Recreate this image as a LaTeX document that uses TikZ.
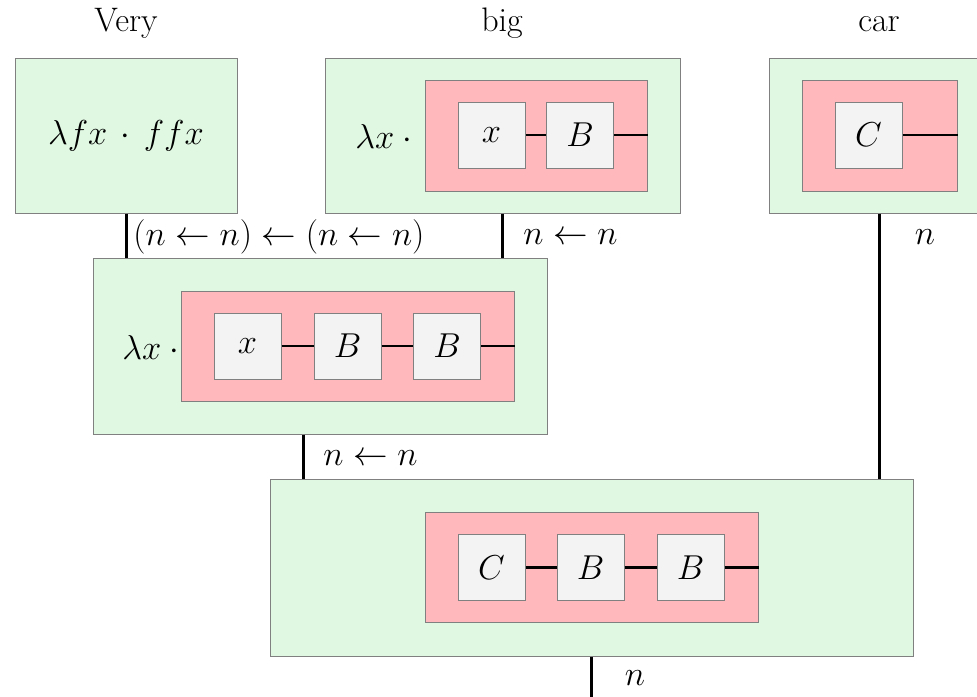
\documentclass[tikz,border=0pt]{standalone}
\usepackage{amsmath}
\begin{document}
\definecolor{gfill}{RGB}{224,248,226}
\definecolor{pfill}{RGB}{255,184,188}
\definecolor{bfill}{RGB}{243,243,243}
\definecolor{edge}{RGB}{128,128,128}
\begin{tikzpicture}[x=0.5pt,y=-0.5pt,
  outerbox/.style={draw=edge,fill=gfill,line width=0.5pt,inner sep=0pt},
  pinkbox/.style={draw=edge,fill=pfill,line width=0.5pt,inner sep=0pt,minimum height=55.5pt},
  graybox/.style={draw=edge,fill=bfill,line width=0.5pt,inner sep=0pt,minimum width=33.5pt,minimum height=33pt,font=\fontsize{18}{22}\selectfont},
  mathtxt/.style={inner sep=0pt,font=\fontsize{18}{22}\selectfont},
  title/.style={inner sep=0pt,anchor=base,font=\fontsize{17}{20}\selectfont},
  wire/.style={line width=1.5pt,black},
  iwire/.style={line width=1.4pt,black}]
\useasboundingbox (0,0) rectangle (977,696);
\clip (0,0) rectangle (977,696);

% titles
\node[title] (tvery) at (126,32) {Very};
\node[title] (tbig) at (502,32) {big};
\node[title] (tcar) at (879,32) {car};

% Very
\node[outerbox,minimum width=111pt,minimum height=77.5pt,font=\fontsize{18.5}{22}\selectfont] (very) at (126,135.5) {$\lambda f x\,\cdot\, f f x$};

% big
\node[outerbox,minimum width=177.5pt,minimum height=77.5pt] (big) at (502.5,135.5) {};
\node[pinkbox,minimum width=111pt] (bigp) at (536,135.5) {};
\node[graybox] (bigx) at (491.5,135) {$x$};
\node[graybox] (bigB) at (580,135) {$B$};
\node[mathtxt,anchor=west] (biglam) at (355,136) {$\lambda x\cdot{}$};
\draw[iwire] (bigx.east) -- (bigB.west);
\draw[iwire] (bigB.east) -- (bigB.east -| bigp.east);

% car
\node[outerbox,minimum width=110pt,minimum height=77.5pt] (car) at (879,135.5) {};
\node[pinkbox,minimum width=77.5pt] (carp) at (879.5,135.5) {};
\node[graybox] (carC) at (868.5,135) {$C$};
\draw[iwire] (carC.east) -- (carC.east -| carp.east);

% middle
\node[outerbox,minimum width=227pt,minimum height=88pt] (mid) at (320,346) {};
\node[pinkbox,minimum width=166.5pt,minimum height=55pt] (midp) at (347.5,346) {};
\node[graybox] (midx) at (247.5,346) {$x$};
\node[graybox] (midB1) at (347.5,346) {$B$};
\node[graybox] (midB2) at (447,346) {$B$};
\node[mathtxt,anchor=west] (midlam) at (122,347) {$\lambda x\cdot{}$};
\draw[iwire] (midx.east) -- (midB1.west);
\draw[iwire] (midB1.east) -- (midB2.west);
\draw[iwire] (midB2.east) -- (midB2.east -| midp.east);

% bottom
\node[outerbox,minimum width=321.5pt,minimum height=88.5pt] (bot) at (591.5,567.5) {};
\node[pinkbox,minimum width=166.5pt,minimum height=55pt] (botp) at (591.5,567) {};
\node[graybox] (botC) at (491.5,567.5) {$C$};
\node[graybox] (botB1) at (590.5,567.5) {$B$};
\node[graybox] (botB2) at (690.5,567.5) {$B$};
\draw[iwire] (botC.east) -- (botB1.west);
\draw[iwire] (botB1.east) -- (botB2.west);
\draw[iwire] (botB2.east) -- (botB2.east -| botp.east);

% connectors
\coordinate (out) at (591.5,700);
\draw[wire] (very.south) -- (very.south |- mid.north);
\draw[wire] (big.south) -- (big.south |- mid.north);
\draw[wire] (car.south) -- (car.south |- bot.north);
\draw[wire] ([xshift=-8.5pt]mid.south) -- ([xshift=-8.5pt]mid.south |- bot.north);
\draw[wire] (bot.south) -- (out);

% labels
\node[mathtxt,anchor=west] (l1) at (133,237) {$(n\leftarrow n)\leftarrow(n\leftarrow n)$};
\node[mathtxt,anchor=west] (l2) at (523,237) {$n\leftarrow n$};
\node[mathtxt] (l3) at (925,237) {$n$};
\node[mathtxt,anchor=west] (l4) at (323,458) {$n\leftarrow n$};
\node[mathtxt] (l5) at (635,678) {$n$};
\end{tikzpicture}
\end{document}
